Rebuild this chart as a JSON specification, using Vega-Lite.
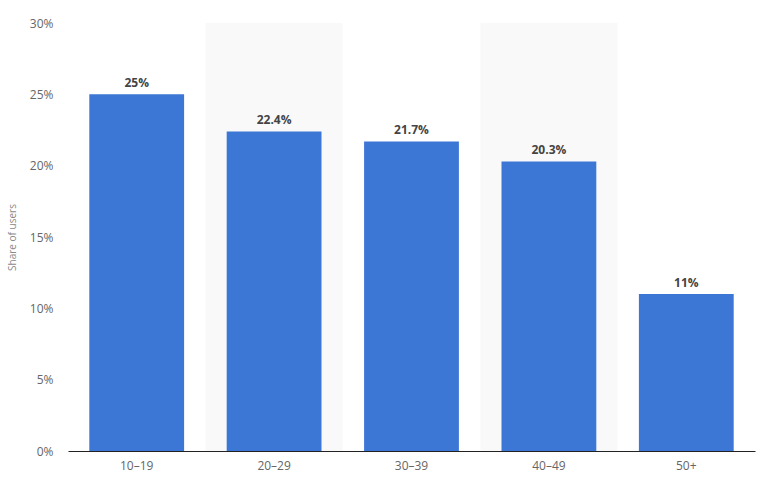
{
  "$schema": "https://vega.github.io/schema/vega-lite/v6.json",
  "width": 687,
  "height": 428,
  "autosize": {"type": "none"},
  "padding": {"left": 68, "top": 23, "right": 13, "bottom": 35},
  "background": "white",
  "data": {
    "values": [
      {"age": "10–19", "share": 25, "label": "25%"},
      {"age": "20–29", "share": 22.4, "label": "22.4%"},
      {"age": "30–39", "share": 21.7, "label": "21.7%"},
      {"age": "40–49", "share": 20.3, "label": "20.3%"},
      {"age": "50+", "share": 11, "label": "11%"}
    ]
  },
  "config": {
    "view": {"stroke": null},
    "font": "Open Sans",
    "axis": {"labelFont": "Open Sans", "titleFont": "Open Sans"}
  },
  "encoding": {
    "x": {
      "field": "age",
      "type": "nominal",
      "sort": ["10–19", "20–29", "30–39", "40–49", "50+"],
      "title": null,
      "scale": {"paddingInner": 0.31, "paddingOuter": 0.155},
      "axis": {
        "labelAngle": 0,
        "labelColor": "#666",
        "labelFontSize": 12,
        "labelPadding": 9,
        "ticks": false,
        "domainColor": "#222",
        "domainWidth": 1.2,
        "grid": false
      }
    }
  },
  "layer": [
    {
      "transform": [{"filter": {"field": "age", "oneOf": ["20–29", "40–49"]}}],
      "mark": {"type": "bar", "color": "#000000", "opacity": 0.022, "width": {"band": 1.449}},
      "encoding": {
        "y": {"datum": 30, "type": "quantitative"},
        "y2": {"datum": 0}
      }
    },
    {
      "mark": {"type": "bar", "color": "#3c77d6"},
      "encoding": {
        "y": {
          "field": "share",
          "type": "quantitative",
          "title": "Share of users",
          "scale": {"domain": [0, 30]},
          "axis": {
            "values": [0, 5, 10, 15, 20, 25, 30],
            "labelExpr": "datum.value + '%'",
            "labelColor": "#666",
            "labelFontSize": 12,
            "labelPadding": 15,
            "titleColor": "#888",
            "titleFontSize": 10,
            "titleFontWeight": "normal",
            "titlePadding": 12,
            "ticks": false,
            "domain": false,
            "gridColor": "#bbbbbb",
            "gridDash": [1, 2],
            "gridWidth": 1
          }
        }
      }
    },
    {
      "mark": {"type": "text", "dy": -11, "fontWeight": "bold", "fontSize": 12, "color": "#444"},
      "encoding": {
        "y": {"field": "share", "type": "quantitative"},
        "text": {"field": "label"}
      }
    }
  ]
}
